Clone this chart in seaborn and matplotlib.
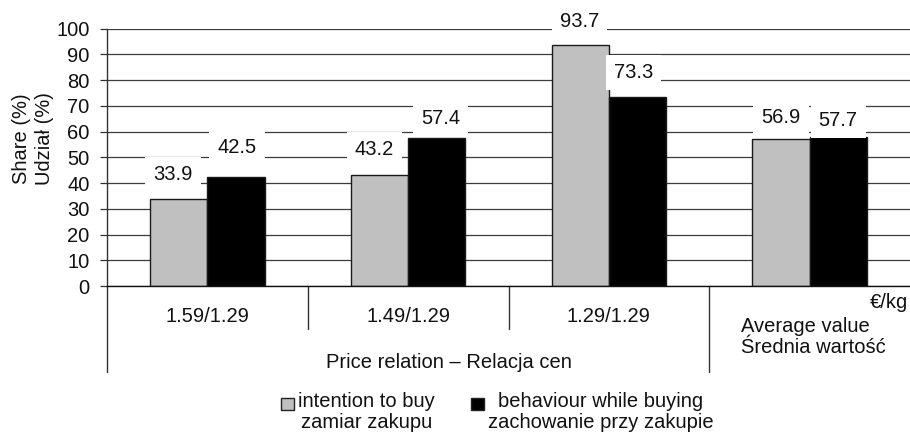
import matplotlib
matplotlib.use("Agg")
import matplotlib.pyplot as plt
from matplotlib.patches import Rectangle
import seaborn as sns
import pandas as pd

# Chart data
categories = ["1.59/1.29", "1.49/1.29", "1.29/1.29", "Average value"]
series = ["intention to buy", "behaviour while buying"]
intention = [33.9, 43.2, 93.7, 56.9]
behaviour = [42.5, 57.4, 73.3, 57.7]
y_ticks = list(range(0, 101, 10))

# Label placement (pixels above bar top / horizontal nudge)
label_dy = {0: [24.5, 25, 23, 22], 1: [29, 20, 25, 17]}
label_dx = {0: [-6, -5, -1, 0], 1: [1, 4, -4, 0]}

sns.set_theme(style="white")
plt.rcParams["font.family"] = ["Liberation Sans", "DejaVu Sans"]
FS = 14.5
colors = {series[0]: "#c0c0c0", series[1]: "#000000"}

df = pd.DataFrame({
    "category": categories * 2,
    "series": [series[0]] * len(categories) + [series[1]] * len(categories),
    "value": intention + behaviour,
})

W, H = 910, 432
fig = plt.figure(figsize=(W / 100, H / 100), dpi=100)
ax = fig.add_axes([107 / W, 1 - 286 / H, 1 - 107 / W, (286 - 28.5) / H])

sns.barplot(data=df, x="category", y="value", hue="series", order=categories,
            hue_order=series, palette=colors, width=0.57, edgecolor="#1a1a1a",
            linewidth=1.0, saturation=1, legend=False, errorbar=None, ax=ax)

ax.set_xlim(-0.5, len(categories) - 0.5)
ax.set_ylim(0, 100)
ax.set_yticks(y_ticks)
ax.set_xlabel("")
ax.set_ylabel("")
ax.set_axisbelow(True)
ax.yaxis.grid(True, color="#3c3c3c", linewidth=0.9)
ax.xaxis.grid(False)
for side in ("top", "right"):
    ax.spines[side].set_visible(False)
ax.spines["left"].set_color("#333333")
ax.spines["left"].set_linewidth(1.0)
ax.spines["bottom"].set_color("#111111")
ax.spines["bottom"].set_linewidth(1.0)

ax.tick_params(axis="y", direction="out", length=5, width=0.9, color="#333333",
               pad=7.5, labelsize=FS, labelcolor="#111111", left=True)
ax.set_xticks(range(len(categories)))
ax.set_xticklabels(categories[:3] + [""])
ax.tick_params(axis="x", length=0, pad=15, labelsize=FS, labelcolor="#111111")

# Category dividers below the axis
ax_h = (286 - 28.5)
for x, depth in [(-0.5, 86), (0.5, 43), (1.5, 43), (2.5, 86)]:
    ax.axvline(x, ymin=-depth / ax_h, ymax=0, clip_on=False,
               color="#333333", linewidth=1.0)

# Value labels with white boxes
for s_idx, cont in enumerate(ax.containers):
    for b_idx, bar in enumerate(cont):
        h = bar.get_height()
        ax.annotate(f"{h:.1f}",
                    (bar.get_x() + bar.get_width() / 2, h),
                    xytext=(label_dx[s_idx][b_idx], label_dy[s_idx][b_idx]),
                    textcoords="offset pixels", ha="center", va="center",
                    fontsize=FS, color="#111111", annotation_clip=False,
                    bbox=dict(boxstyle="square,pad=0.4", facecolor="white",
                              edgecolor="none"), zorder=4)

def px(x, y):
    return x / W, 1 - y / H

fig.text(*px(908, 302), "€/kg", ha="right", va="center", fontsize=FS, color="#111111")
fig.text(*px(741, 337), "Average value\nŚrednia wartość", ha="left", va="center",
         fontsize=FS, color="#111111", linespacing=1.15)
fig.text(*px(449, 362), "Price relation – Relacja cen", ha="center", va="center",
         fontsize=FS, color="#111111")
fig.text(*px(33, 139), "Share (%)\nUdział (%)", rotation=90, ha="center", va="center",
         multialignment="center", fontsize=FS, color="#111111", linespacing=1.2)

# Legend: swatch followed by a two-line, centred caption
legend_items = [
    (281, "#c0c0c0", "intention to buy\nzamiar zakupu"),
    (471, "#000000", "behaviour while buying\nzachowanie przy zakupie"),
]
for sx, col, label in legend_items:
    fig.add_artist(Rectangle(px(sx, 410), 13 / W, 12 / H, transform=fig.transFigure,
                             facecolor=col, edgecolor="#222222", linewidth=1.0))
    fig.text(*px(sx + 17, 412), label, ha="left", va="center", multialignment="center",
             fontsize=FS, color="#111111", linespacing=1.15)

fig.savefig("out.png", dpi=100)
